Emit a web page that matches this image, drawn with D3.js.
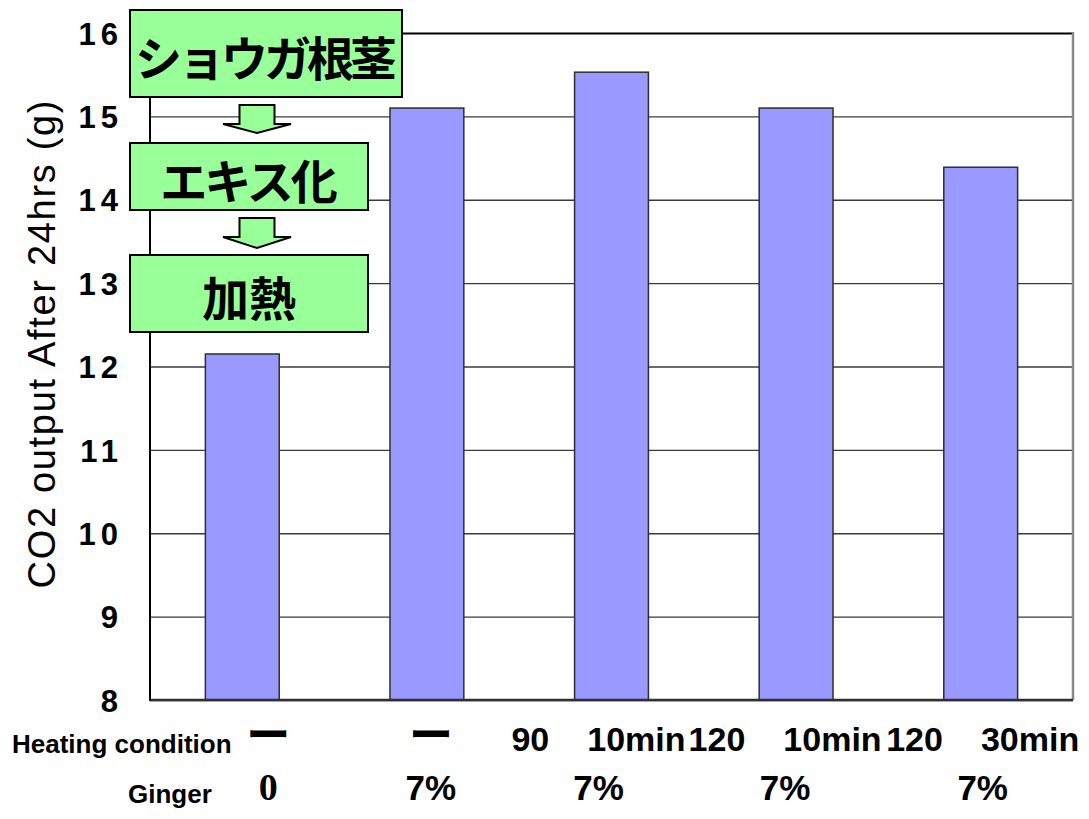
<!DOCTYPE html>
<html>
<head>
<meta charset="utf-8">
<script src="https://cdn.jsdelivr.net/npm/d3@7"></script>
<style>
  html, body { margin: 0; padding: 0; background: #ffffff; }
  svg { display: block; }
</style>
</head>
<body>
<svg id="chart" width="1089" height="819"></svg>
<script>
// CO2 released after 24 h by dough made with ginger extract under different heating conditions
const categories = ["none-0", "none-7", "90-10", "120-10", "120-30"];
const co2Output = [12.15, 15.1, 15.53, 15.1, 14.39];
const heatingLabels = [["ー"], ["ー"], ["90", "10min"], ["120", "10min"], ["120", "30min"]];
const gingerLabels = ["0", "7%", "7%", "7%", "7%"];
const yTicks = [8, 9, 10, 11, 12, 13, 14, 15, 16];
const processSteps = ["ショウガ根茎", "エキス化", "加熱"];
const yTitle = "CO2 output After 24hrs (g)";
const rowTitles = ["Heating condition", "Ginger"];

// ---- layout ----
const plot = { left: 150, right: 1073, top: 33, bottom: 700 };
const latin = "'Liberation Sans', Arial, Helvetica, sans-serif";
const cjk = "'Noto Sans CJK JP', 'Noto Sans CJK SC', sans-serif";
// horizontal nudge of each category's text block relative to its bar
const labelNudge = [26, 4, -13, -11, 2];

const svg = d3.select("#chart");

const y = d3.scaleLinear().domain([8, 16]).range([plot.bottom, plot.top]);
const x = d3.scaleBand()
  .domain(categories)
  .range([plot.left, plot.right])
  .paddingInner(0.6)
  .paddingOuter(0.3);

// gridlines + tick labels
const yAxis = d3.axisLeft(y)
  .tickValues(yTicks)
  .tickSize(-(plot.right - plot.left))
  .tickPadding(27)
  .tickFormat(d3.format("d"));

const gy = svg.append("g")
  .attr("transform", `translate(${plot.left},0)`)
  .call(yAxis);
gy.select(".domain").remove();
gy.selectAll(".tick line")
  .attr("stroke", d => d === 16 ? "#000" : "#3a3a3a")
  .attr("stroke-width", d => d === 16 ? 2 : 1.4);
gy.selectAll(".tick text")
  .attr("font-family", latin)
  .attr("font-weight", "bold")
  .attr("font-size", 31)
  .attr("letter-spacing", 5)
  .attr("dy", "0.36em")
  .attr("fill", "#000");

// bars
svg.append("g")
  .selectAll("rect")
  .data(categories)
  .join("rect")
  .attr("x", d => x(d))
  .attr("y", (d, i) => y(co2Output[i]))
  .attr("width", x.bandwidth())
  .attr("height", (d, i) => y(8) - y(co2Output[i]))
  .attr("fill", "#9999FF")
  .attr("stroke", "#2e2e2e")
  .attr("stroke-width", 1.5);

// frame
svg.append("line")
  .attr("x1", plot.right).attr("x2", plot.right)
  .attr("y1", y(16) - 1).attr("y2", y(8))
  .attr("stroke", "#888").attr("stroke-width", 2.5);
svg.append("line")
  .attr("x1", plot.left).attr("x2", plot.right)
  .attr("y1", y(8)).attr("y2", y(8))
  .attr("stroke", "#303030").attr("stroke-width", 2.5);
svg.append("line")
  .attr("x1", plot.left).attr("x2", plot.left)
  .attr("y1", y(16) - 1).attr("y2", y(8) + 1)
  .attr("stroke", "#000").attr("stroke-width", 2);

// y-axis title
svg.append("text")
  .attr("transform", `translate(55,${(y(8) + y(16)) / 2 - 22}) rotate(-90)`)
  .attr("text-anchor", "middle")
  .attr("font-family", latin)
  .attr("font-size", 38)
  .attr("textLength", 488)
  .attr("lengthAdjust", "spacing")
  .attr("fill", "#000")
  .text(yTitle);

// process flow: ginger rhizome -> extract -> heating
const boxes = [
  { x: 130, y: 10, w: 272, h: 87, spacing: -4 },
  { x: 130, y: 143, w: 238, h: 67, spacing: -3 },
  { x: 130, y: 255, w: 238, h: 77, spacing: 0 }
];
const flow = svg.append("g");
flow.selectAll("rect")
  .data(processSteps)
  .join("rect")
  .attr("x", (d, i) => boxes[i].x)
  .attr("y", (d, i) => boxes[i].y)
  .attr("width", (d, i) => boxes[i].w)
  .attr("height", (d, i) => boxes[i].h)
  .attr("fill", "#99FF99")
  .attr("stroke", "#000")
  .attr("stroke-width", 2);
flow.selectAll("text")
  .data(processSteps)
  .join("text")
  .attr("x", (d, i) => boxes[i].x + boxes[i].w / 2 + boxes[i].spacing / 2)
  .attr("y", (d, i) => boxes[i].y + boxes[i].h / 2 + 2)
  .attr("text-anchor", "middle")
  .attr("dominant-baseline", "central")
  .attr("font-family", cjk)
  .attr("font-weight", "bold")
  .attr("font-size", 47)
  .attr("letter-spacing", (d, i) => boxes[i].spacing)
  .attr("fill", "#000")
  .text(d => d);

// down arrows between the steps
const arrows = [
  { cx: 257, top: 105, neck: 124, tip: 133 },
  { cx: 257, top: 218, neck: 237, tip: 248 }
];
const shaft = 17.5, head = 34;
flow.selectAll("path")
  .data(arrows)
  .join("path")
  .attr("d", a => {
    const p = d3.path();
    p.moveTo(a.cx - shaft, a.top);
    p.lineTo(a.cx + shaft, a.top);
    p.lineTo(a.cx + shaft, a.neck);
    p.lineTo(a.cx + head, a.neck);
    p.lineTo(a.cx, a.tip);
    p.lineTo(a.cx - head, a.neck);
    p.lineTo(a.cx - shaft, a.neck);
    p.closePath();
    return p.toString();
  })
  .attr("fill", "#99FF99")
  .attr("stroke", "#000")
  .attr("stroke-width", 2);

// category labels below the axis (two rows)
const rowY = [751, 800];
const cx = i => x(categories[i]) + x.bandwidth() / 2 + labelNudge[i];

const heat = svg.append("g");
heatingLabels.forEach((parts, i) => {
  const t = heat.append("text")
    .attr("x", cx(i))
    .attr("y", rowY[0])
    .attr("text-anchor", "middle")
    .attr("font-family", parts[0] === "ー" ? cjk : latin)
    .attr("font-weight", "bold")
    .attr("font-size", parts[0] === "ー" ? 44 : 34)
    .attr("fill", "#000");
  parts.forEach((s, k) => {
    t.append("tspan").attr("dx", k > 0 ? 38 : 0).text(s);
  });
});

svg.append("g")
  .selectAll("text")
  .data(gingerLabels)
  .join("text")
  .attr("x", (d, i) => cx(i))
  .attr("y", rowY[1])
  .attr("text-anchor", "middle")
  .attr("font-family", d => d === "0" ? "'Liberation Serif', 'Times New Roman', serif" : latin)
  .attr("font-weight", "bold")
  .attr("font-size", d => d === "0" ? 38 : 35)
  .attr("fill", "#000")
  .text(d => d);

// row titles
svg.append("text")
  .attr("x", 12).attr("y", 753)
  .attr("font-family", latin)
  .attr("font-weight", "bold")
  .attr("font-size", 26)
  .attr("fill", "#000")
  .text(rowTitles[0]);
svg.append("text")
  .attr("x", 128).attr("y", 803)
  .attr("font-family", latin)
  .attr("font-weight", "bold")
  .attr("font-size", 26)
  .attr("fill", "#000")
  .text(rowTitles[1]);
</script>
</body>
</html>
